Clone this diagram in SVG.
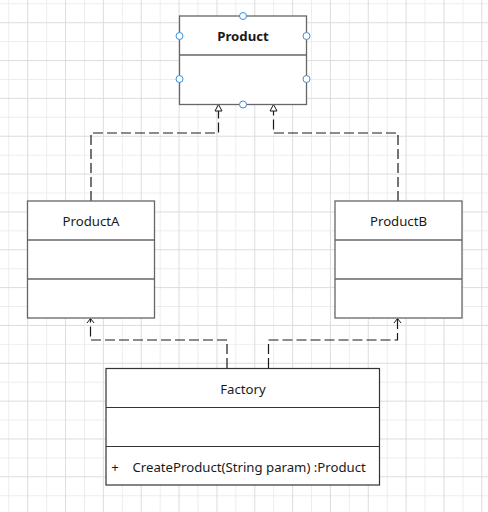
<svg xmlns="http://www.w3.org/2000/svg" width="488" height="512" viewBox="0 0 488 512">
<defs>
<pattern id="grid" patternUnits="userSpaceOnUse" x="8.3" y="3.3" width="37.84" height="37.84">
<path d="M0.5 0V37.84M0 0.5H37.84" stroke="#ededed" stroke-width="1" fill="none"/>
<path d="M19.42 0V37.84M0 19.42H37.84" stroke="#dcdcdc" stroke-width="1" fill="none"/>
</pattern>
<style>
.box{fill:#ffffff;stroke:#666666;stroke-width:1.3}
.fbox{fill:#ffffff;stroke:#333333;stroke-width:1.2}
.div{stroke:#666666;stroke-width:1.6}
.fdiv{stroke:#333333;stroke-width:1}
.t{font-family:"Noto Sans","Open Sans","Liberation Sans",sans-serif;font-size:13.2px;fill:#1a1a1a;text-anchor:middle}
.b{font-weight:bold}
.dash{fill:none;stroke:#1a1a1a;stroke-width:1.2;stroke-dasharray:10 4}
.hd{fill:#ffffff;stroke:#1a1a1a;stroke-width:1}
.ln{fill:none;stroke:#1a1a1a;stroke-width:1}
.h{fill:#ffffff;stroke:#3d8fe0;stroke-width:1}
</style>
</defs>
<rect width="488" height="512" fill="#ffffff"/>
<rect width="488" height="512" fill="url(#grid)"/>

<g id="connectors">
<path class="dash" d="M91 201V133H218.5V111"/>
<path class="hd" d="M218.5 104.5L215 111H222Z"/>
<path class="dash" d="M398 201V133H273.5V111"/>
<path class="hd" d="M273.5 104.5L270 111H277Z"/>
<path class="dash" d="M227 368V340H90.5V319"/>
<path class="ln" d="M87 323L90.5 318.5L94 323"/>
<path class="dash" d="M268.5 368V340H397.5V319"/>
<path class="ln" d="M394 323L397.5 318.5L401 323"/>
</g>

<g id="Product">
<rect class="box" x="179.5" y="16" width="127" height="88.5"/>
<line class="div" x1="179.5" y1="55" x2="306.5" y2="55"/>
<text class="t b" x="243" y="40.5">Product</text>
<circle class="h" cx="243" cy="16" r="3.5"/>
<circle class="h" cx="179.5" cy="36" r="3.5"/>
<circle class="h" cx="179.5" cy="79" r="3.5"/>
<circle class="h" cx="306.5" cy="36" r="3.5"/>
<circle class="h" cx="306.5" cy="79" r="3.5"/>
<circle class="h" cx="243" cy="104.5" r="3.5"/>
</g>

<g id="ProductA">
<rect class="box" x="27.5" y="201" width="127" height="117"/>
<line class="div" x1="27.5" y1="240" x2="154.5" y2="240"/>
<line class="div" x1="27.5" y1="279" x2="154.5" y2="279"/>
<text class="t" x="91" y="225.5">ProductA</text>
</g>

<g id="ProductB">
<rect class="box" x="335" y="201" width="127" height="117"/>
<line class="div" x1="335" y1="240" x2="462" y2="240"/>
<line class="div" x1="335" y1="279" x2="462" y2="279"/>
<text class="t" x="398.5" y="225.5">ProductB</text>
</g>

<g id="Factory">
<rect class="fbox" x="106" y="368.5" width="273.5" height="116.5"/>
<line class="fdiv" x1="106" y1="407.5" x2="379.5" y2="407.5"/>
<line class="fdiv" x1="106" y1="446.5" x2="379.5" y2="446.5"/>
<text class="t" x="243" y="393.5">Factory</text>
<text class="t" x="115" y="471.5">+</text>
<text class="t" x="132.5" y="471.5" style="text-anchor:start">CreateProduct(String param) :Product</text>
</g>
</svg>
